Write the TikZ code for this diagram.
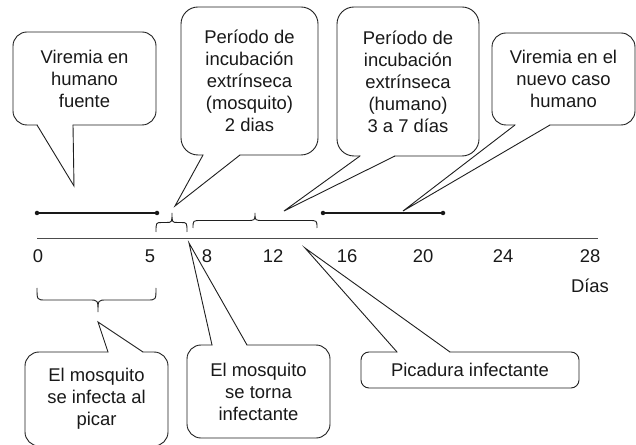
\documentclass[tikz,border=0pt]{standalone}
\usepackage{fontspec}
\setmainfont{Liberation Sans}
\newcommand\curlybr[6]{% x1 x2 xm yb yt r
  \draw[bracepath] (#1,#4) .. controls (#1,{(#4+#5)/2}) .. ({#1+#6},{(#4+#5)/2})
    -- ({#3-#6},{(#4+#5)/2}) .. controls (#3,{(#4+#5)/2}) .. (#3,#5)
    .. controls (#3,{(#4+#5)/2}) .. ({#3+#6},{(#4+#5)/2})
    -- ({#2-#6},{(#4+#5)/2}) .. controls (#2,{(#4+#5)/2}) .. (#2,#4);}
\begin{document}
\begin{tikzpicture}[x=1bp,y=-1bp,
  every node/.style={font=\fontsize{18.5}{22}\selectfont, text=black!90},
  bubble/.style={draw=black!88, line width=0.9bp, rounded corners=14bp, fill=white,
                 align=center, inner sep=0pt},
  tailline/.style={draw=black!88, line width=0.9bp, line join=miter},
  ticklab/.style={inner sep=0pt, anchor=center},
  vbar/.style={line width=1.3bp, draw=black!90},
  vdot/.style={circle, fill=black!90, inner sep=0pt, minimum size=4.5bp},
  bracepath/.style={draw=black!88, line width=0.9bp},
]
\useasboundingbox (0,0) rectangle (636,445);

% axis
\coordinate (ax0) at (37,238);
\coordinate (ax1) at (598,238);
\draw[line width=0.9bp, black!70] (ax0) -- (ax1);
\node[ticklab] (l0)  at (38,256)  {0};
\node[ticklab] (l5)  at (150,256) {5};
\node[ticklab] (l8)  at (207,256) {8};
\node[ticklab] (l12) at (273,256) {12};
\node[ticklab] (l16) at (347,256) {16};
\node[ticklab] (l20) at (423,256) {20};
\node[ticklab] (l24) at (503,256) {24};
\node[ticklab] (l28) at (590,256) {28};
\node[ticklab] (dias) at (590,286) {Días};

% viremia bars
\node[vdot] (d1a) at (37,213) {};
\node[vdot] (d1b) at (157,213) {};
\draw[vbar] (d1a.center) -- (d1b.center);
\node[vdot] (d2a) at (323,213) {};
\node[vdot] (d2b) at (443,213) {};
\draw[vbar] (d2a.center) -- (d2b.center);

% braces
\curlybr{156}{187}{172}{232}{213}{6}
\curlybr{193}{317}{255}{228}{213}{8}
\curlybr{37}{156}{98}{288}{312}{9}

% bubbles
\node[bubble, minimum width=143bp, minimum height=93bp] (b1) at (84.5,78.5)
  {Viremia en\\humano\\fuente};
\node[bubble, rounded corners=17bp, minimum width=137bp, minimum height=148bp] (b2) at (249.5,81)
  {Período de\\incubación\\extrínseca\\(mosquito)\\2 dias};
\node[bubble, rounded corners=17bp, minimum width=142bp, minimum height=149bp] (b3) at (408,81.5)
  {Período de\\incubación\\extrínseca\\(humano)\\3 a 7 días};
\node[bubble, minimum width=143bp, minimum height=92bp] (b4) at (563.5,79)
  {Viremia en el\\nuevo caso\\humano};
\node[bubble, minimum width=143bp, minimum height=94bp] (b5) at (96.5,399)
  {El mosquito\\se infecta al\\picar};
\node[bubble, minimum width=143bp, minimum height=93bp] (b6) at (258.5,391.5)
  {El mosquito\\se torna\\infectante};
\node[bubble, rounded corners=8bp, minimum width=218bp, minimum height=36bp] (b7) at (470,370)
  {Picadura infectante};

% tails (downward)
\coordinate (t1) at (74,186);
\fill[white] (37.5,121) -- (37.5,125) -- (t1) -- (72.5,125) -- (72.5,121) -- cycle;
\draw[tailline] (37,125) -- (t1) -- (73,125);

\coordinate (t2) at (175,206);
\fill[white] (203.5,151) -- (203.5,155) -- (t2) -- (239.5,155) -- (239.5,151) -- cycle;
\draw[tailline] (203,155) -- (t2) -- (240,155);

\coordinate (t3) at (284,211);
\fill[white] (360.5,152) -- (360.5,156) -- (t3) -- (394.5,156) -- (394.5,152) -- cycle;
\draw[tailline] (360,156) -- (t3) -- (395,156);

\coordinate (t4) at (403,211);
\fill[white] (515.5,121) -- (515.5,125) -- (t4) -- (549.5,125) -- (549.5,121) -- cycle;
\draw[tailline] (515,125) -- (t4) -- (550,125);

% tails (upward)
\coordinate (t5) at (98,322);
\fill[white] (108.5,356) -- (108.5,352) -- (t5) -- (142.5,352) -- (142.5,356) -- cycle;
\draw[tailline] (108,352) -- (t5) -- (143,352);

\coordinate (t6) at (189,243);
\fill[white] (212.5,349) -- (212.5,345) -- (t6) -- (246.5,345) -- (246.5,349) -- cycle;
\draw[tailline] (212,345) -- (t6) -- (247,345);

\coordinate (t7) at (305,248);
\fill[white] (397.5,356) -- (397.5,352) -- (t7) -- (449.5,352) -- (449.5,356) -- cycle;
\draw[tailline] (397,352) -- (t7) -- (450,352);
\end{tikzpicture}
\end{document}
